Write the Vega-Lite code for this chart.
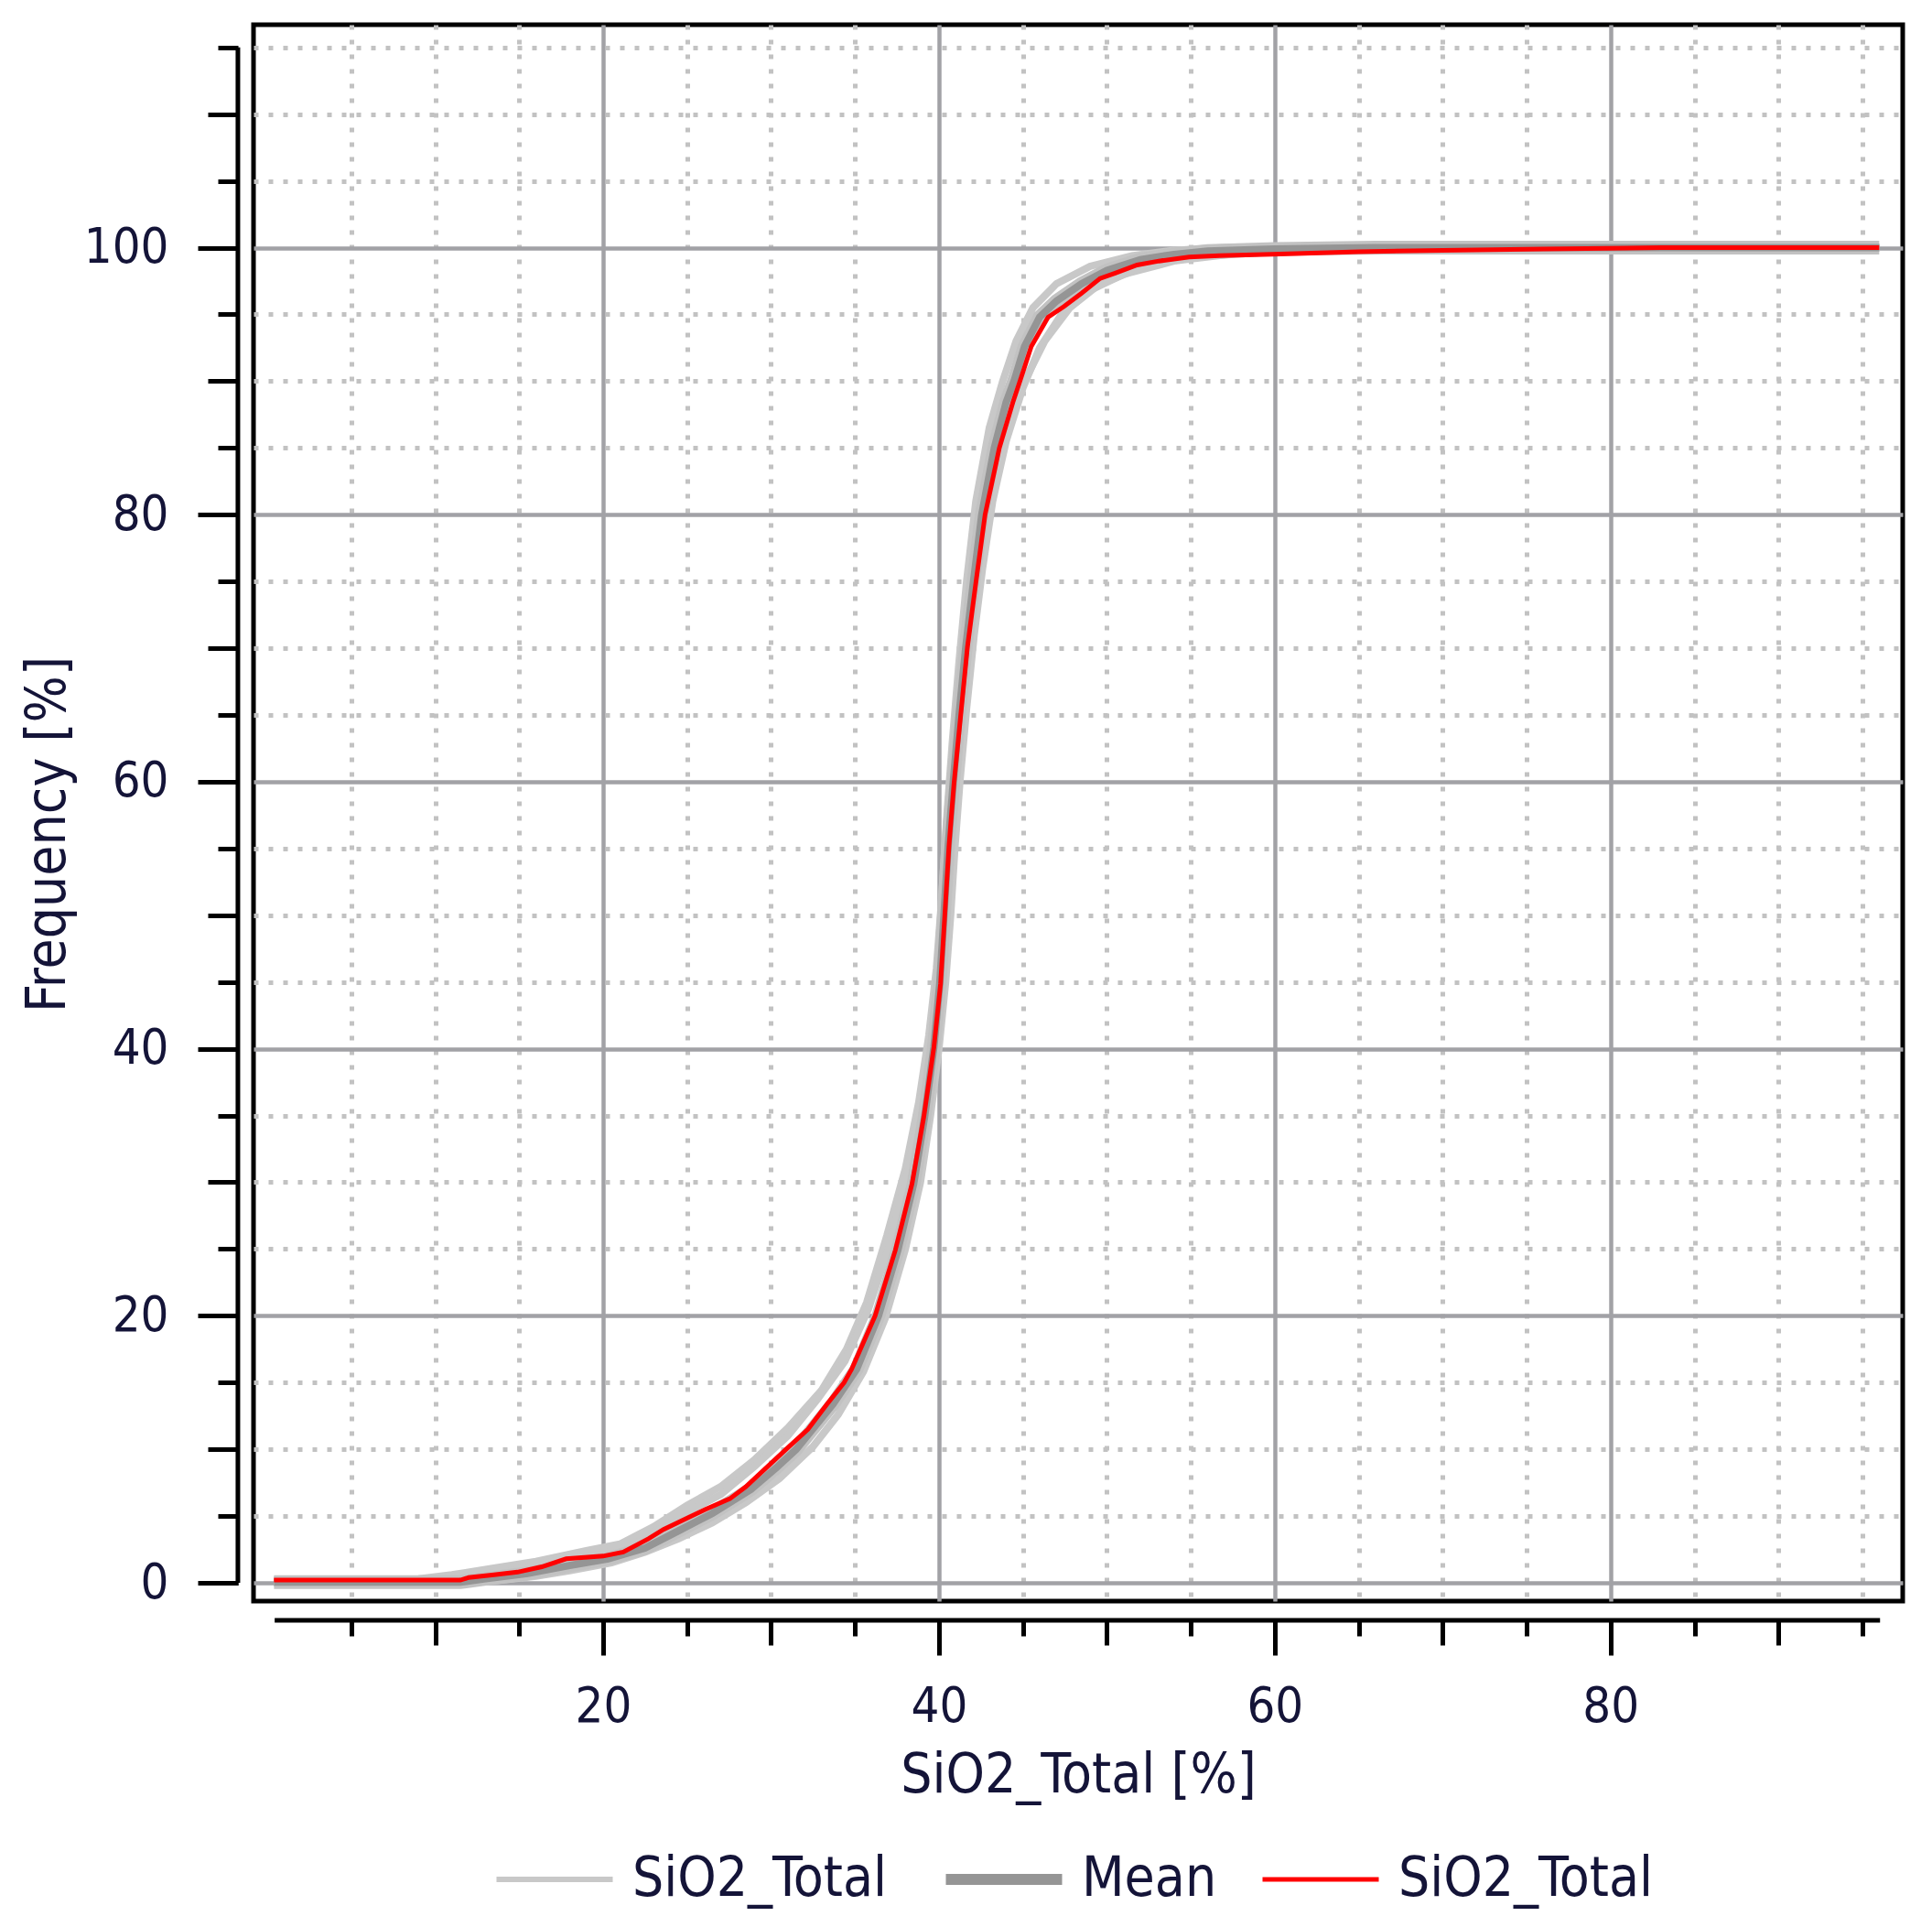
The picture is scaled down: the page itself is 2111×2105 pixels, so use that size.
{
  "$schema": "https://vega.github.io/schema/vega-lite/v6.json",
  "width": 1802,
  "height": 1722,
  "autosize": "none",
  "padding": {"left": 277, "top": 27, "right": 32, "bottom": 356},
  "background": "#ffffff",
  "config": {
    "font": "DejaVu Sans Condensed, DejaVu Sans",
    "view": {"stroke": "#000000", "strokeWidth": 5},
    "axis": {
      "domain": false,
      "labelFont": "DejaVu Sans Condensed, DejaVu Sans",
      "labelFontSize": 54,
      "labelColor": "#141438",
      "labelFlush": false,
      "labelOverlap": false,
      "titleFont": "DejaVu Sans Condensed, DejaVu Sans",
      "titleFontSize": 60,
      "titleFontWeight": "normal",
      "titleColor": "#141438",
      "tickColor": "#000000",
      "tickWidth": 5
    },
    "legend": {
      "labelFont": "DejaVu Sans Condensed, DejaVu Sans",
      "labelFontSize": 60,
      "labelColor": "#141438",
      "labelLimit": 0
    }
  },
  "data": {
    "values": [
      {"series": "Realization", "run": "r1", "sio2": 0.4, "freq": 0.2},
      {"series": "Realization", "run": "r1", "sio2": 9, "freq": 0.3},
      {"series": "Realization", "run": "r1", "sio2": 11, "freq": 0.6},
      {"series": "Realization", "run": "r1", "sio2": 13.5, "freq": 1.1},
      {"series": "Realization", "run": "r1", "sio2": 16, "freq": 1.6},
      {"series": "Realization", "run": "r1", "sio2": 19, "freq": 2.4},
      {"series": "Realization", "run": "r1", "sio2": 21, "freq": 2.9},
      {"series": "Realization", "run": "r1", "sio2": 23, "freq": 4.2},
      {"series": "Realization", "run": "r1", "sio2": 25, "freq": 5.8},
      {"series": "Realization", "run": "r1", "sio2": 27, "freq": 7.2},
      {"series": "Realization", "run": "r1", "sio2": 29, "freq": 9.2},
      {"series": "Realization", "run": "r1", "sio2": 31, "freq": 11.6},
      {"series": "Realization", "run": "r1", "sio2": 33, "freq": 14.4},
      {"series": "Realization", "run": "r1", "sio2": 34.5, "freq": 17.5},
      {"series": "Realization", "run": "r1", "sio2": 35.7, "freq": 21},
      {"series": "Realization", "run": "r1", "sio2": 36.9, "freq": 26},
      {"series": "Realization", "run": "r1", "sio2": 38, "freq": 31},
      {"series": "Realization", "run": "r1", "sio2": 38.8, "freq": 36},
      {"series": "Realization", "run": "r1", "sio2": 39.4, "freq": 41},
      {"series": "Realization", "run": "r1", "sio2": 39.85, "freq": 46},
      {"series": "Realization", "run": "r1", "sio2": 40.15, "freq": 51},
      {"series": "Realization", "run": "r1", "sio2": 40.45, "freq": 57},
      {"series": "Realization", "run": "r1", "sio2": 40.8, "freq": 63},
      {"series": "Realization", "run": "r1", "sio2": 41.2, "freq": 69},
      {"series": "Realization", "run": "r1", "sio2": 41.65, "freq": 75},
      {"series": "Realization", "run": "r1", "sio2": 42.2, "freq": 81},
      {"series": "Realization", "run": "r1", "sio2": 43, "freq": 86.5},
      {"series": "Realization", "run": "r1", "sio2": 43.8, "freq": 90},
      {"series": "Realization", "run": "r1", "sio2": 44.6, "freq": 93},
      {"series": "Realization", "run": "r1", "sio2": 45.6, "freq": 95.5},
      {"series": "Realization", "run": "r1", "sio2": 47, "freq": 97.3},
      {"series": "Realization", "run": "r1", "sio2": 49, "freq": 98.6},
      {"series": "Realization", "run": "r1", "sio2": 51.5, "freq": 99.4},
      {"series": "Realization", "run": "r1", "sio2": 54, "freq": 99.8},
      {"series": "Realization", "run": "r1", "sio2": 57, "freq": 100},
      {"series": "Realization", "run": "r1", "sio2": 96, "freq": 100},
      {"series": "Realization", "run": "r2", "sio2": 0.4, "freq": 0.15},
      {"series": "Realization", "run": "r2", "sio2": 10, "freq": 0.2},
      {"series": "Realization", "run": "r2", "sio2": 12, "freq": 0.5},
      {"series": "Realization", "run": "r2", "sio2": 14.5, "freq": 0.9},
      {"series": "Realization", "run": "r2", "sio2": 17, "freq": 1.6},
      {"series": "Realization", "run": "r2", "sio2": 19.5, "freq": 2.1},
      {"series": "Realization", "run": "r2", "sio2": 21.5, "freq": 2.7},
      {"series": "Realization", "run": "r2", "sio2": 23.3, "freq": 4.0},
      {"series": "Realization", "run": "r2", "sio2": 25, "freq": 5.3},
      {"series": "Realization", "run": "r2", "sio2": 27, "freq": 6.6},
      {"series": "Realization", "run": "r2", "sio2": 29, "freq": 8.7},
      {"series": "Realization", "run": "r2", "sio2": 31, "freq": 11},
      {"series": "Realization", "run": "r2", "sio2": 32.8, "freq": 13.8},
      {"series": "Realization", "run": "r2", "sio2": 34.4, "freq": 16.6},
      {"series": "Realization", "run": "r2", "sio2": 35.8, "freq": 20.5},
      {"series": "Realization", "run": "r2", "sio2": 37.1, "freq": 25.5},
      {"series": "Realization", "run": "r2", "sio2": 38.1, "freq": 30.5},
      {"series": "Realization", "run": "r2", "sio2": 38.9, "freq": 35.5},
      {"series": "Realization", "run": "r2", "sio2": 39.5, "freq": 40.5},
      {"series": "Realization", "run": "r2", "sio2": 39.95, "freq": 45.5},
      {"series": "Realization", "run": "r2", "sio2": 40.25, "freq": 50.5},
      {"series": "Realization", "run": "r2", "sio2": 40.5, "freq": 56},
      {"series": "Realization", "run": "r2", "sio2": 40.85, "freq": 61.5},
      {"series": "Realization", "run": "r2", "sio2": 41.25, "freq": 67},
      {"series": "Realization", "run": "r2", "sio2": 41.7, "freq": 72.5},
      {"series": "Realization", "run": "r2", "sio2": 42.3, "freq": 78},
      {"series": "Realization", "run": "r2", "sio2": 43, "freq": 83.5},
      {"series": "Realization", "run": "r2", "sio2": 43.9, "freq": 88},
      {"series": "Realization", "run": "r2", "sio2": 44.9, "freq": 91.5},
      {"series": "Realization", "run": "r2", "sio2": 46, "freq": 94.5},
      {"series": "Realization", "run": "r2", "sio2": 47.5, "freq": 96.5},
      {"series": "Realization", "run": "r2", "sio2": 49.5, "freq": 98},
      {"series": "Realization", "run": "r2", "sio2": 52, "freq": 99.1},
      {"series": "Realization", "run": "r2", "sio2": 55, "freq": 99.7},
      {"series": "Realization", "run": "r2", "sio2": 59, "freq": 100},
      {"series": "Realization", "run": "r2", "sio2": 96, "freq": 100},
      {"series": "Realization", "run": "r3", "sio2": 0.4, "freq": 0.05},
      {"series": "Realization", "run": "r3", "sio2": 12, "freq": 0.05},
      {"series": "Realization", "run": "r3", "sio2": 14, "freq": 0.4},
      {"series": "Realization", "run": "r3", "sio2": 16.5, "freq": 0.9},
      {"series": "Realization", "run": "r3", "sio2": 19, "freq": 1.6},
      {"series": "Realization", "run": "r3", "sio2": 21, "freq": 2},
      {"series": "Realization", "run": "r3", "sio2": 23, "freq": 3},
      {"series": "Realization", "run": "r3", "sio2": 25, "freq": 4.3},
      {"series": "Realization", "run": "r3", "sio2": 27, "freq": 5.6},
      {"series": "Realization", "run": "r3", "sio2": 29, "freq": 7.3},
      {"series": "Realization", "run": "r3", "sio2": 31, "freq": 9.2},
      {"series": "Realization", "run": "r3", "sio2": 33, "freq": 12},
      {"series": "Realization", "run": "r3", "sio2": 34.7, "freq": 15},
      {"series": "Realization", "run": "r3", "sio2": 36, "freq": 18.5},
      {"series": "Realization", "run": "r3", "sio2": 37.3, "freq": 23.5},
      {"series": "Realization", "run": "r3", "sio2": 38.4, "freq": 28.5},
      {"series": "Realization", "run": "r3", "sio2": 39.2, "freq": 33.5},
      {"series": "Realization", "run": "r3", "sio2": 39.8, "freq": 38.5},
      {"series": "Realization", "run": "r3", "sio2": 40.2, "freq": 43.5},
      {"series": "Realization", "run": "r3", "sio2": 40.5, "freq": 48.5},
      {"series": "Realization", "run": "r3", "sio2": 40.8, "freq": 54},
      {"series": "Realization", "run": "r3", "sio2": 41.1, "freq": 59.5},
      {"series": "Realization", "run": "r3", "sio2": 41.5, "freq": 65},
      {"series": "Realization", "run": "r3", "sio2": 42, "freq": 71},
      {"series": "Realization", "run": "r3", "sio2": 42.5, "freq": 76.5},
      {"series": "Realization", "run": "r3", "sio2": 43.2, "freq": 82},
      {"series": "Realization", "run": "r3", "sio2": 44.1, "freq": 86.5},
      {"series": "Realization", "run": "r3", "sio2": 45.1, "freq": 90},
      {"series": "Realization", "run": "r3", "sio2": 46.3, "freq": 93},
      {"series": "Realization", "run": "r3", "sio2": 47.8, "freq": 95.5},
      {"series": "Realization", "run": "r3", "sio2": 49.5, "freq": 97.2},
      {"series": "Realization", "run": "r3", "sio2": 52, "freq": 98.5},
      {"series": "Realization", "run": "r3", "sio2": 55, "freq": 99.3},
      {"series": "Realization", "run": "r3", "sio2": 60, "freq": 99.7},
      {"series": "Realization", "run": "r3", "sio2": 66, "freq": 99.95},
      {"series": "Realization", "run": "r3", "sio2": 72, "freq": 100},
      {"series": "Realization", "run": "r3", "sio2": 96, "freq": 100},
      {"series": "Realization", "run": "r4", "sio2": 0.4, "freq": 0},
      {"series": "Realization", "run": "r4", "sio2": 12, "freq": 0},
      {"series": "Realization", "run": "r4", "sio2": 14, "freq": 0.2},
      {"series": "Realization", "run": "r4", "sio2": 16, "freq": 0.5},
      {"series": "Realization", "run": "r4", "sio2": 18, "freq": 0.9},
      {"series": "Realization", "run": "r4", "sio2": 20.5, "freq": 1.5},
      {"series": "Realization", "run": "r4", "sio2": 22.5, "freq": 2.3},
      {"series": "Realization", "run": "r4", "sio2": 24.5, "freq": 3.3},
      {"series": "Realization", "run": "r4", "sio2": 26.5, "freq": 4.5},
      {"series": "Realization", "run": "r4", "sio2": 28.5, "freq": 6.0},
      {"series": "Realization", "run": "r4", "sio2": 30.5, "freq": 7.8},
      {"series": "Realization", "run": "r4", "sio2": 32.5, "freq": 10.2},
      {"series": "Realization", "run": "r4", "sio2": 34, "freq": 12.6},
      {"series": "Realization", "run": "r4", "sio2": 35.5, "freq": 15.8},
      {"series": "Realization", "run": "r4", "sio2": 36.8, "freq": 19.8},
      {"series": "Realization", "run": "r4", "sio2": 38, "freq": 25},
      {"series": "Realization", "run": "r4", "sio2": 38.9, "freq": 30},
      {"series": "Realization", "run": "r4", "sio2": 39.5, "freq": 35},
      {"series": "Realization", "run": "r4", "sio2": 40, "freq": 40},
      {"series": "Realization", "run": "r4", "sio2": 40.4, "freq": 45},
      {"series": "Realization", "run": "r4", "sio2": 40.7, "freq": 50},
      {"series": "Realization", "run": "r4", "sio2": 40.95, "freq": 55},
      {"series": "Realization", "run": "r4", "sio2": 41.25, "freq": 60},
      {"series": "Realization", "run": "r4", "sio2": 41.65, "freq": 65.5},
      {"series": "Realization", "run": "r4", "sio2": 42.1, "freq": 71},
      {"series": "Realization", "run": "r4", "sio2": 42.6, "freq": 76},
      {"series": "Realization", "run": "r4", "sio2": 43.2, "freq": 81},
      {"series": "Realization", "run": "r4", "sio2": 44, "freq": 85.5},
      {"series": "Realization", "run": "r4", "sio2": 45, "freq": 89.5},
      {"series": "Realization", "run": "r4", "sio2": 46, "freq": 92.5},
      {"series": "Realization", "run": "r4", "sio2": 47.3, "freq": 95},
      {"series": "Realization", "run": "r4", "sio2": 49, "freq": 96.8},
      {"series": "Realization", "run": "r4", "sio2": 51, "freq": 98},
      {"series": "Realization", "run": "r4", "sio2": 54, "freq": 99},
      {"series": "Realization", "run": "r4", "sio2": 58, "freq": 99.6},
      {"series": "Realization", "run": "r4", "sio2": 64, "freq": 99.9},
      {"series": "Realization", "run": "r4", "sio2": 70, "freq": 100},
      {"series": "Realization", "run": "r4", "sio2": 96, "freq": 100},
      {"series": "Mean", "run": "mean", "sio2": 0.4, "freq": 0.05},
      {"series": "Mean", "run": "mean", "sio2": 11.5, "freq": 0.05},
      {"series": "Mean", "run": "mean", "sio2": 13, "freq": 0.3},
      {"series": "Mean", "run": "mean", "sio2": 15.5, "freq": 0.7},
      {"series": "Mean", "run": "mean", "sio2": 18, "freq": 1.3},
      {"series": "Mean", "run": "mean", "sio2": 20.3, "freq": 1.8},
      {"series": "Mean", "run": "mean", "sio2": 22.5, "freq": 2.6},
      {"series": "Mean", "run": "mean", "sio2": 24.5, "freq": 3.9},
      {"series": "Mean", "run": "mean", "sio2": 26.5, "freq": 5.2},
      {"series": "Mean", "run": "mean", "sio2": 28.8, "freq": 7.0},
      {"series": "Mean", "run": "mean", "sio2": 30.3, "freq": 8.6},
      {"series": "Mean", "run": "mean", "sio2": 31.5, "freq": 10},
      {"series": "Mean", "run": "mean", "sio2": 33.7, "freq": 13.4},
      {"series": "Mean", "run": "mean", "sio2": 35.1, "freq": 16},
      {"series": "Mean", "run": "mean", "sio2": 36.4, "freq": 20},
      {"series": "Mean", "run": "mean", "sio2": 37.55, "freq": 24.9},
      {"series": "Mean", "run": "mean", "sio2": 38.5, "freq": 29.9},
      {"series": "Mean", "run": "mean", "sio2": 39.15, "freq": 34.9},
      {"series": "Mean", "run": "mean", "sio2": 39.7, "freq": 40.1},
      {"series": "Mean", "run": "mean", "sio2": 40.05, "freq": 44.9},
      {"series": "Mean", "run": "mean", "sio2": 40.3, "freq": 50},
      {"series": "Mean", "run": "mean", "sio2": 40.55, "freq": 55.2},
      {"series": "Mean", "run": "mean", "sio2": 40.85, "freq": 59.9},
      {"series": "Mean", "run": "mean", "sio2": 41.2, "freq": 65},
      {"series": "Mean", "run": "mean", "sio2": 41.6, "freq": 70.1},
      {"series": "Mean", "run": "mean", "sio2": 42.05, "freq": 74.9},
      {"series": "Mean", "run": "mean", "sio2": 42.55, "freq": 80},
      {"series": "Mean", "run": "mean", "sio2": 43.3, "freq": 85},
      {"series": "Mean", "run": "mean", "sio2": 44, "freq": 88.4},
      {"series": "Mean", "run": "mean", "sio2": 44.5, "freq": 90.1},
      {"series": "Mean", "run": "mean", "sio2": 45.1, "freq": 92.6},
      {"series": "Mean", "run": "mean", "sio2": 46, "freq": 94.8},
      {"series": "Mean", "run": "mean", "sio2": 47, "freq": 96},
      {"series": "Mean", "run": "mean", "sio2": 48.5, "freq": 97.3},
      {"series": "Mean", "run": "mean", "sio2": 50, "freq": 98.3},
      {"series": "Mean", "run": "mean", "sio2": 52, "freq": 99.1},
      {"series": "Mean", "run": "mean", "sio2": 54, "freq": 99.5},
      {"series": "Mean", "run": "mean", "sio2": 56, "freq": 99.75},
      {"series": "Mean", "run": "mean", "sio2": 60, "freq": 99.9},
      {"series": "Mean", "run": "mean", "sio2": 66, "freq": 100},
      {"series": "Mean", "run": "mean", "sio2": 96, "freq": 100},
      {"series": "SiO2_Total", "run": "data", "sio2": 0.4, "freq": 0.2},
      {"series": "SiO2_Total", "run": "data", "sio2": 11.5, "freq": 0.2},
      {"series": "SiO2_Total", "run": "data", "sio2": 12, "freq": 0.4},
      {"series": "SiO2_Total", "run": "data", "sio2": 13.5, "freq": 0.6},
      {"series": "SiO2_Total", "run": "data", "sio2": 14.9, "freq": 0.8},
      {"series": "SiO2_Total", "run": "data", "sio2": 16.35, "freq": 1.2},
      {"series": "SiO2_Total", "run": "data", "sio2": 17.8, "freq": 1.8},
      {"series": "SiO2_Total", "run": "data", "sio2": 20, "freq": 2.0},
      {"series": "SiO2_Total", "run": "data", "sio2": 21.2, "freq": 2.3},
      {"series": "SiO2_Total", "run": "data", "sio2": 22.7, "freq": 3.3},
      {"series": "SiO2_Total", "run": "data", "sio2": 23.6, "freq": 4.0},
      {"series": "SiO2_Total", "run": "data", "sio2": 25.1, "freq": 4.9},
      {"series": "SiO2_Total", "run": "data", "sio2": 26.1, "freq": 5.5},
      {"series": "SiO2_Total", "run": "data", "sio2": 27.55, "freq": 6.3},
      {"series": "SiO2_Total", "run": "data", "sio2": 28.5, "freq": 7.2},
      {"series": "SiO2_Total", "run": "data", "sio2": 29.7, "freq": 8.6},
      {"series": "SiO2_Total", "run": "data", "sio2": 30.9, "freq": 10.0},
      {"series": "SiO2_Total", "run": "data", "sio2": 32.2, "freq": 11.5},
      {"series": "SiO2_Total", "run": "data", "sio2": 33.35, "freq": 13.4},
      {"series": "SiO2_Total", "run": "data", "sio2": 34.35, "freq": 15.0},
      {"series": "SiO2_Total", "run": "data", "sio2": 34.8, "freq": 16.0},
      {"series": "SiO2_Total", "run": "data", "sio2": 36.2, "freq": 20.0},
      {"series": "SiO2_Total", "run": "data", "sio2": 37.4, "freq": 24.9},
      {"series": "SiO2_Total", "run": "data", "sio2": 38.4, "freq": 29.9},
      {"series": "SiO2_Total", "run": "data", "sio2": 39.1, "freq": 34.9},
      {"series": "SiO2_Total", "run": "data", "sio2": 39.7, "freq": 40.1},
      {"series": "SiO2_Total", "run": "data", "sio2": 40.1, "freq": 44.9},
      {"series": "SiO2_Total", "run": "data", "sio2": 40.35, "freq": 50.0},
      {"series": "SiO2_Total", "run": "data", "sio2": 40.6, "freq": 55.2},
      {"series": "SiO2_Total", "run": "data", "sio2": 40.9, "freq": 59.9},
      {"series": "SiO2_Total", "run": "data", "sio2": 41.3, "freq": 65.0},
      {"series": "SiO2_Total", "run": "data", "sio2": 41.7, "freq": 70.1},
      {"series": "SiO2_Total", "run": "data", "sio2": 42.2, "freq": 74.9},
      {"series": "SiO2_Total", "run": "data", "sio2": 42.75, "freq": 80.0},
      {"series": "SiO2_Total", "run": "data", "sio2": 43.6, "freq": 85.0},
      {"series": "SiO2_Total", "run": "data", "sio2": 44.4, "freq": 88.4},
      {"series": "SiO2_Total", "run": "data", "sio2": 44.85, "freq": 90.1},
      {"series": "SiO2_Total", "run": "data", "sio2": 45.5, "freq": 92.6},
      {"series": "SiO2_Total", "run": "data", "sio2": 46.5, "freq": 94.8},
      {"series": "SiO2_Total", "run": "data", "sio2": 47.45, "freq": 95.6},
      {"series": "SiO2_Total", "run": "data", "sio2": 48.5, "freq": 96.6},
      {"series": "SiO2_Total", "run": "data", "sio2": 49.6, "freq": 97.7},
      {"series": "SiO2_Total", "run": "data", "sio2": 50.5, "freq": 98.1},
      {"series": "SiO2_Total", "run": "data", "sio2": 51.8, "freq": 98.7},
      {"series": "SiO2_Total", "run": "data", "sio2": 53.1, "freq": 99.0},
      {"series": "SiO2_Total", "run": "data", "sio2": 54.9, "freq": 99.3},
      {"series": "SiO2_Total", "run": "data", "sio2": 56.7, "freq": 99.4},
      {"series": "SiO2_Total", "run": "data", "sio2": 59.85, "freq": 99.5},
      {"series": "SiO2_Total", "run": "data", "sio2": 65, "freq": 99.7},
      {"series": "SiO2_Total", "run": "data", "sio2": 70, "freq": 99.8},
      {"series": "SiO2_Total", "run": "data", "sio2": 76, "freq": 99.9},
      {"series": "SiO2_Total", "run": "data", "sio2": 83, "freq": 100},
      {"series": "SiO2_Total", "run": "data", "sio2": 96, "freq": 100}
    ]
  },
  "layer": [
    {
      "transform": [{"filter": "datum.series === 'Realization'"}],
      "mark": {"type": "line", "strokeWidth": 8},
      "encoding": {
        "x": {
          "field": "sio2",
          "type": "quantitative",
          "scale": {"domain": [-0.82, 97.4], "nice": false, "zero": false},
          "axis": {
            "orient": "bottom",
            "title": null,
            "labels": false,
            "values": [5, 10, 15, 20, 25, 30, 35, 40, 45, 50, 55, 60, 65, 70, 75, 80, 85, 90, 95],
            "offset": 20,
            "tickSize": 18,
            "gridDash": {"condition": {"test": "datum.value % 20 === 0", "value": []}, "value": [5, 11]},
            "gridColor": {"condition": {"test": "datum.value % 20 === 0", "value": "#a2a2a6"}, "value": "#c2c2c2"},
            "gridWidth": {"condition": {"test": "datum.value % 20 === 0", "value": 4.5}, "value": 5}
          }
        },
        "y": {
          "field": "freq",
          "type": "quantitative",
          "scale": {"domain": [-1.37, 116.7], "nice": false, "zero": false},
          "axis": {
            "orient": "left",
            "title": null,
            "labels": false,
            "values": [0, 5, 10, 15, 20, 25, 30, 35, 40, 45, 50, 55, 60, 65, 70, 75, 80, 85, 90, 95, 100, 105, 110, 115],
            "offset": 17,
            "tickSize": 22,
            "gridDash": {"condition": {"test": "datum.value % 20 === 0", "value": []}, "value": [5, 11]},
            "gridColor": {"condition": {"test": "datum.value % 20 === 0", "value": "#a2a2a6"}, "value": "#c2c2c2"},
            "gridWidth": {"condition": {"test": "datum.value % 20 === 0", "value": 4.5}, "value": 5}
          }
        },
        "detail": {"field": "run"},
        "color": {
          "field": "series",
          "type": "nominal",
          "scale": {"domain": ["Realization", "Mean", "SiO2_Total"], "range": ["#c8c8c8", "#959595", "#ff0000"]},
          "legend": {
            "orient": "none",
            "legendX": 299,
            "legendY": 1996,
            "direction": "horizontal",
            "title": null,
            "symbolType": "stroke",
            "symbolSize": 16129,
            "labelOffset": 55,
            "columnPadding": 39,
            "padding": 0,
            "labelExpr": "datum.value === 'Realization' ? 'SiO2_Total' : datum.label",
            "encode": {"symbols": {"update": {"strokeWidth": {"signal": "datum.value === 'Mean' ? 12 : datum.value === 'SiO2_Total' ? 5 : 6"}}}}
          }
        }
      }
    },
    {
      "transform": [{"filter": "datum.series === 'Mean'"}],
      "mark": {"type": "line", "strokeWidth": 15, "color": "#c2c2c2"},
      "encoding": {
        "x": {
          "field": "sio2",
          "type": "quantitative",
          "axis": {"orient": "bottom", "title": null, "labels": false, "grid": false, "values": [10, 30, 50, 70, 90], "offset": 20, "tickSize": 28}
        },
        "y": {
          "field": "freq",
          "type": "quantitative",
          "axis": {"orient": "left", "title": null, "labels": false, "grid": false, "values": [10, 30, 50, 70, 90, 110], "offset": 17, "tickSize": 33}
        }
      }
    },
    {
      "transform": [{"filter": "datum.series === 'Mean'"}],
      "mark": {"type": "line", "strokeWidth": 8},
      "encoding": {
        "x": {
          "field": "sio2",
          "type": "quantitative",
          "axis": {"orient": "bottom", "title": "SiO2_Total [%]", "grid": false, "values": [20, 40, 60, 80], "offset": 20, "tickSize": 39, "labelPadding": 29, "titlePadding": 19}
        },
        "y": {
          "field": "freq",
          "type": "quantitative",
          "axis": {"orient": "left", "title": "Frequency [%]", "titleY": 884, "grid": false, "values": [0, 20, 40, 60, 80, 100], "offset": 17, "tickSize": 44, "labelPadding": 32, "titlePadding": 8}
        },
        "color": {"field": "series", "type": "nominal"}
      }
    },
    {
      "transform": [{"filter": "datum.series === 'SiO2_Total'"}],
      "mark": {"type": "line", "strokeWidth": 5},
      "encoding": {
        "x": {"field": "sio2", "type": "quantitative", "axis": null},
        "y": {"field": "freq", "type": "quantitative", "axis": null},
        "color": {"field": "series", "type": "nominal"}
      }
    },
    {
      "data": {"values": [{"axisline": "y"}]},
      "mark": {"type": "rule", "color": "#000000", "strokeWidth": 5, "clip": false},
      "encoding": {
        "x": {"datum": -1.75, "type": "quantitative", "axis": null},
        "y": {"datum": 0, "type": "quantitative", "axis": null},
        "y2": {"datum": 115}
      }
    },
    {
      "data": {"values": [{"axisline": "x"}]},
      "mark": {"type": "rule", "color": "#000000", "strokeWidth": 5, "clip": false},
      "encoding": {
        "y": {"datum": -2.81, "type": "quantitative", "axis": null},
        "x": {"datum": 0.44, "type": "quantitative", "axis": null},
        "x2": {"datum": 96.05}
      }
    }
  ],
  "resolve": {"axis": {"x": "independent", "y": "independent"}}
}
